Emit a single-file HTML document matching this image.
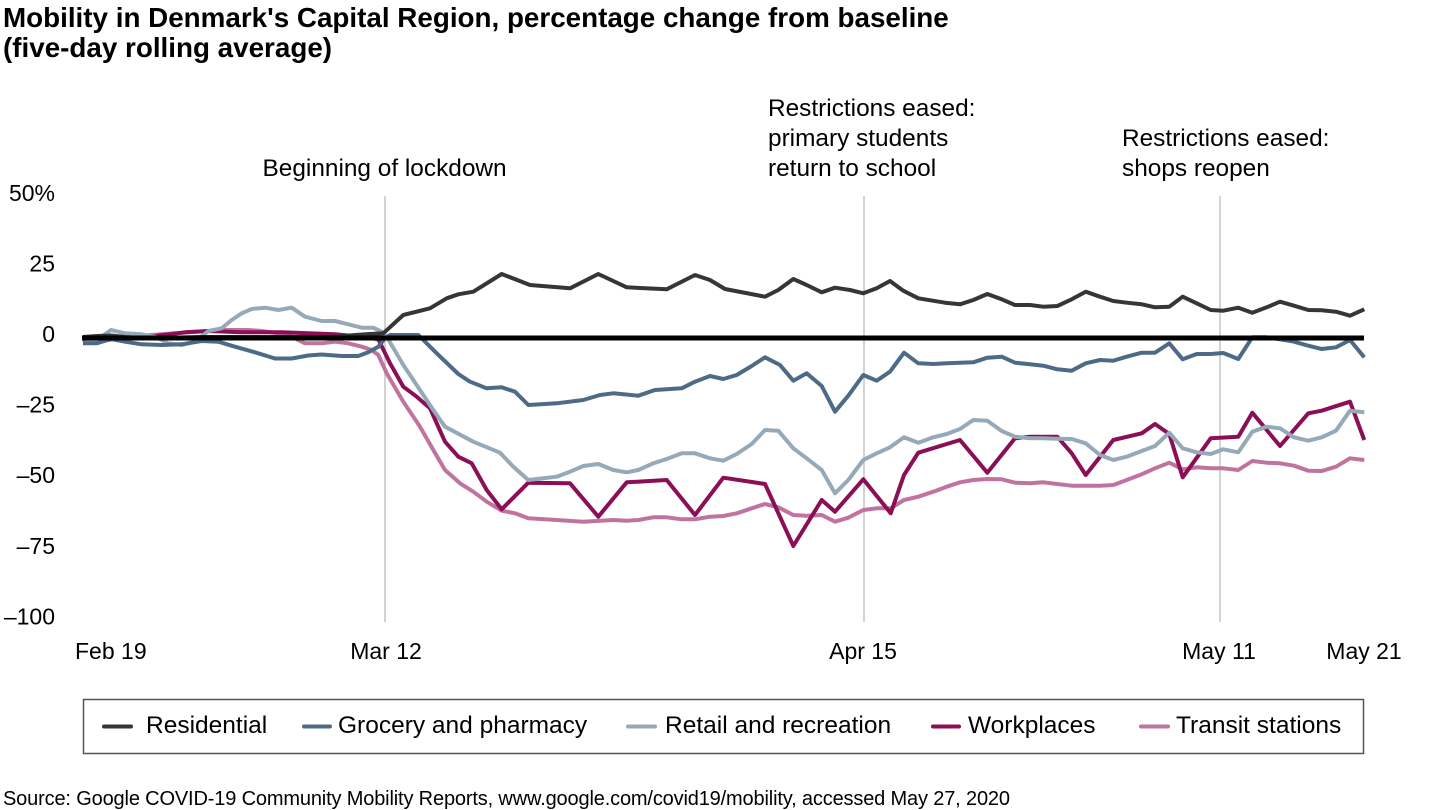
<!DOCTYPE html>
<html>
<head>
<meta charset="utf-8">
<style>
  html,body{margin:0;padding:0;background:#fff;}
  svg{display:block;}
  text{font-family:"Liberation Sans", Arial, sans-serif;fill:#000;}
</style>
</head>
<body>
<svg width="1440" height="810" viewBox="0 0 1440 810" xmlns="http://www.w3.org/2000/svg">
  <rect width="1440" height="810" fill="#fff"/>

  <!-- Title -->
  <text x="3" y="27" font-size="27.8" font-weight="bold">Mobility in Denmark's Capital Region, percentage change from baseline</text>
  <text x="3" y="57" font-size="27.8" font-weight="bold">(five-day rolling average)</text>

  <!-- Annotations -->
  <g font-size="24.4">
    <text x="262.5" y="176">Beginning of lockdown</text>
    <text x="768" y="116">Restrictions eased:</text>
    <text x="768" y="146">primary students</text>
    <text x="768" y="176">return to school</text>
    <text x="1122" y="146">Restrictions eased:</text>
    <text x="1122" y="176">shops reopen</text>
  </g>

  <!-- Vertical event lines -->
  <g stroke="#c8c8c8" stroke-width="1.6">
    <line x1="385" y1="196" x2="385" y2="622"/>
    <line x1="864" y1="196" x2="864" y2="622"/>
    <line x1="1220" y1="196" x2="1220" y2="622"/>
  </g>

  <!-- Y axis labels -->
  <g font-size="23" text-anchor="end">
    <text x="55" y="201">50%</text>
    <text x="55" y="271.5">25</text>
    <text x="55" y="342">0</text>
    <text x="55" y="412.5">–25</text>
    <text x="55" y="483">–50</text>
    <text x="55" y="554">–75</text>
    <text x="55" y="624.5">–100</text>
  </g>

  <!-- X axis labels -->
  <g font-size="23">
    <text x="75" y="659">Feb 19</text>
    <text x="386" y="659" text-anchor="middle">Mar 12</text>
    <text x="863" y="659" text-anchor="middle">Apr 15</text>
    <text x="1219" y="659" text-anchor="middle">May 11</text>
    <text x="1364" y="659" text-anchor="middle">May 21</text>
  </g>

  <!-- Series -->
  <g fill="none" stroke-width="4" stroke-linejoin="round" stroke-linecap="butt">
    <!-- Transit stations -->
    <polyline stroke="#c0739f" points="83,341.7 108.3,340 141.7,335.7 175,333.3 208.3,331 225,330 248.3,330 261.7,331 278.3,333.3 291.7,336.7 305,343.3 321.7,343.3 335,341.7 348.3,343.3 361.7,346.7 371.7,350 378.3,355 386.7,373.3 403.3,401.7 420,426.7 433.3,450 445,470 460,483.3 473.3,491.7 486.7,501.7 501.7,510.7 515,513.3 528.3,518.3 556.7,520 583.3,521.7 613.3,520 626.7,520.7 638.3,520 653.3,517.3 666.7,517.3 681.7,519.3 695,519.3 710,516.7 723.3,516 736.7,513.3 751.7,508.3 765,504 778.3,507.3 793.3,515 806.7,515.7 821.7,515 835,521.7 848.3,517.7 863.3,510 876.7,508.3 890.7,508.3 904,500 918.3,496.7 933.3,491.7 946.7,486.7 960,482.3 973.3,480 987.3,479 1001.7,479.3 1015,482.7 1030,483.3 1043.3,482.3 1057.3,484 1071.7,485.7 1085.7,485.7 1100,485.7 1113.3,485 1126.7,480 1141.7,474.3 1155,468.3 1169.3,462.7 1182.7,469.3 1196.7,467.3 1210.7,468.3 1223.3,468.3 1238.3,470 1252.3,461 1266.7,462.7 1280,463.3 1294,465.7 1308.3,470.7 1321.7,471 1336,466.7 1350,458.3 1364.3,460"/>
    <!-- Workplaces -->
    <polyline stroke="#8a0f57" points="83,339 120,339 155,336 185,332.3 208.3,331 241.7,332.3 281.7,332.3 308.3,333.3 335,334.3 361.7,336.7 378.3,339.3 390,363.3 403.3,386.7 416.7,396.7 430,408.3 445,441.7 458.3,456.7 471.7,463.3 486.7,490 501.7,509.3 528.3,482.7 570,483.3 598.3,516.7 626.7,482.3 666.7,480 695,515 723.3,477.7 765,484 793.3,546 821.7,500 835,511.7 863.3,479.3 890.7,513.3 904,475 918.3,452.7 960,440 987.3,472.7 1015,438.3 1030,436.7 1057.3,436.7 1071.7,453.3 1085.7,475 1113.3,440 1141.7,433.3 1155,424 1169.3,434 1182.7,477.3 1210.7,438.3 1238.3,436.7 1252.3,412.7 1280,446 1308.3,413.3 1321.7,410.7 1350,401.7 1364.3,440"/>
    <!-- Retail and recreation -->
    <polyline stroke="#96a9b8" points="83,343.3 96.7,340 111,330 125,333.3 141.7,334.3 155,336.7 168.3,343.3 181.7,345 195,341.7 208.3,331 221.7,328.3 231.7,320 241.7,313.3 251.7,309 265,307.7 278.3,310 291.7,307.7 305,316.7 321.7,321 335,321 348.3,324.3 361.7,327.7 373.3,327.7 381.7,331.7 386.7,336.7 403.3,365 420,390 433.3,410 445,426.7 473.3,441.7 500,452.7 513.3,466.7 528.3,480 556.7,476.7 570,471.7 583.3,466 598.3,464 613.3,470 626.7,472.3 638.3,470 653.3,463.3 666.7,459 681.7,453.3 695,453.3 710,458.3 723.3,460.7 736.7,454 751.7,444 765,430 778.3,430.7 793.3,448.3 806.7,458.3 821.7,470 835,493.3 848.3,480 863.3,460 876.7,453.3 890,447.3 904,437.3 918.3,442.7 933.3,437.3 946.7,434 960,429 973.3,420 987.3,420.7 1001.7,431 1015,436.7 1030,438.3 1043.3,438.3 1057.3,438.7 1071.7,439 1085.7,443.3 1100,455 1113.3,460 1126.7,456.7 1141.7,451 1155,446 1169.3,432.7 1182.7,448.3 1196.7,452.3 1210.7,454 1223.3,449.3 1238.3,452.3 1252.3,431.7 1266.7,426.7 1280,428.3 1294,437.3 1308.3,440.7 1321.7,437.3 1336,430.7 1350,410.7 1364.3,412.3"/>
    <!-- Grocery and pharmacy -->
    <polyline stroke="#4e6a86" points="83,343.3 96.7,343.3 111,339 125,341.7 141.7,344.3 161.7,345 181.7,344.3 201.7,341 218.3,341.7 235,346.7 255,352.3 275,358.5 291.7,358.5 308.3,355.5 321.7,354.5 341.7,356 358.3,356 368.3,352.3 378.3,346.7 385,338.3 390,335 418.3,335 436.7,353.3 458.3,374 470,381.7 486.7,388.3 501.7,387.3 515,391.7 528.3,405 556.7,403.3 583.3,400 600,395 613.3,393.3 638.3,395.7 655,390 681.7,388.3 695,381.7 710,376 723.3,379 736.7,375 751.7,366 765,357.3 780,365 793.3,380.7 806.7,373.3 821.7,386 835,411.7 848.3,395.7 863.3,375 876.7,380.7 890,371.7 904,352.7 918.3,363.3 933.3,364 946.7,363.3 973.3,362.3 987.3,357.7 1001.7,356.7 1015,362.7 1030,364.3 1043.3,365.7 1057.3,369.3 1071.7,370.7 1085.7,363.3 1100,360 1113.3,360.7 1126.7,356.7 1141.7,352.7 1155,352.7 1169.3,343.3 1182.7,359.3 1196.7,354 1210.7,354 1223.3,353 1238.3,359 1252.3,337.3 1266.7,337.3 1280,339.3 1294,341.7 1308.3,345.7 1321.7,349 1336,347.3 1350,340 1364.3,357.3"/>
    <!-- Residential -->
    <polyline stroke="#363636" points="83,337 97,336 111,335.5 125,337 140,338 160,338 180,337.5 200,337 230,337 260,337 290,337 320,337 340,336.5 355,335 370,334 383.3,333.3 403.3,315 430,308.3 446.7,298.3 458.3,294.3 473.3,291.7 501.7,274 530,285 570,288.3 598.3,274 626.7,287.3 666.7,289.3 695,275 710,280 725,289 765,296.7 778.3,290 793.3,279 806.7,285 821.7,292.3 835,287.7 850,290 863.3,293.3 876.7,288.3 890,281 903.3,290.7 918.3,298.3 945,302.7 960,304.3 973.3,300 987.3,294 1001.7,299.3 1015,305 1030,305 1043.3,306.7 1057.3,306 1071.7,299.3 1085.7,291.7 1100,296.7 1113.3,301 1126.7,302.7 1141.7,304.3 1155,307.3 1169.3,306.7 1182.7,296.7 1196.7,303.3 1210.7,310 1223.3,310.7 1238.3,307.7 1252.3,312.7 1266.7,307.3 1280,301.7 1294,305.7 1308.3,310 1321.7,310.3 1336,311.7 1350,315.7 1364.3,309.3"/>
  </g>

  <!-- Zero line -->
  <line x1="82" y1="338" x2="1364" y2="338" stroke="#000" stroke-width="5"/>

  <!-- Legend -->
  <rect x="83.5" y="699.5" width="1280" height="54" fill="none" stroke="#555" stroke-width="1.5"/>
  <g stroke-width="4" stroke-linecap="round">
    <line x1="104" y1="726.5" x2="131" y2="726.5" stroke="#363636"/>
    <line x1="304" y1="726.5" x2="330" y2="726.5" stroke="#4e6a86"/>
    <line x1="628" y1="726.5" x2="655" y2="726.5" stroke="#96a9b8"/>
    <line x1="933" y1="726.5" x2="959" y2="726.5" stroke="#8a0f57"/>
    <line x1="1141" y1="726.5" x2="1168" y2="726.5" stroke="#c0739f"/>
  </g>
  <g font-size="24.5">
    <text x="146" y="733">Residential</text>
    <text x="338" y="733">Grocery and pharmacy</text>
    <text x="665" y="733">Retail and recreation</text>
    <text x="968" y="733">Workplaces</text>
    <text x="1176" y="733">Transit stations</text>
  </g>

  <!-- Source -->
  <text x="3" y="805" font-size="20" textLength="1007" lengthAdjust="spacing">Source: Google COVID-19 Community Mobility Reports, www.google.com/covid19/mobility, accessed May 27, 2020</text>
</svg>
</body>
</html>
